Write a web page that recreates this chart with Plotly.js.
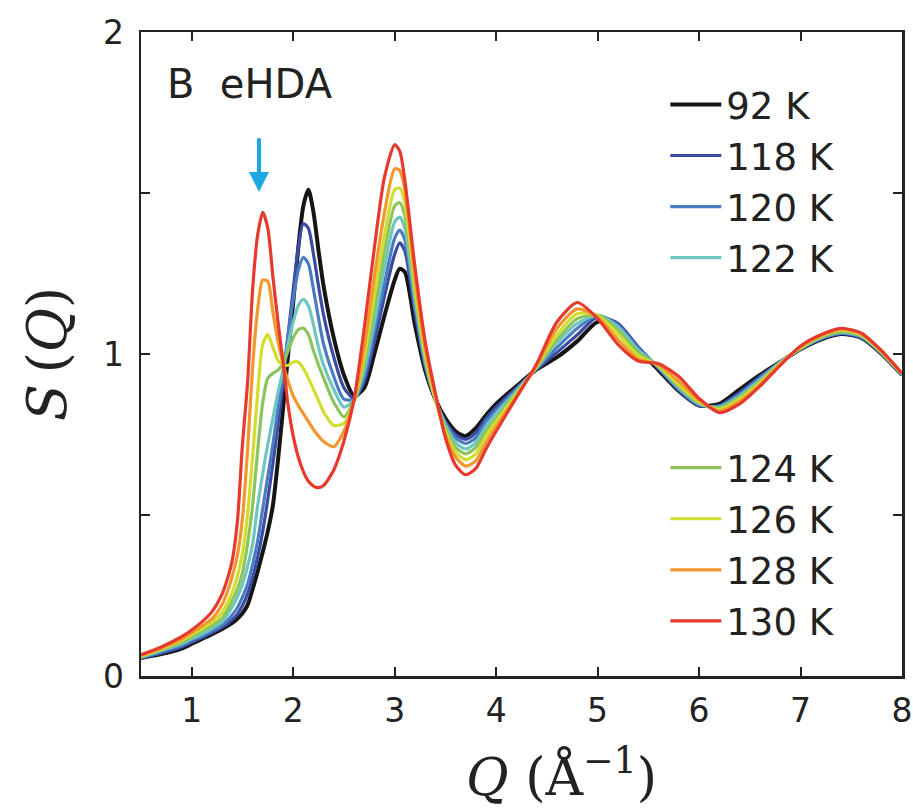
<!DOCTYPE html>
<html>
<head>
<meta charset="utf-8">
<script src="https://cdn.plot.ly/plotly-3.0.1.min.js"></script>
<style>html,body{margin:0;padding:0;background:#fff;}</style>
</head>
<body>
<div id="chart" style="width:913px;height:812px;"></div>
<script>
// Q grid (Å^-1)
const Q = [0.5,0.7,0.9,1.0,1.1,1.2,1.3,1.35,1.4,1.45,1.5,1.55,1.6,1.65,1.7,1.75,1.8,1.85,1.9,1.95,2.0,2.05,2.1,2.15,2.2,2.25,2.3,2.4,2.5,2.6,2.7,2.8,2.9,3.0,3.05,3.1,3.2,3.3,3.4,3.5,3.6,3.7,3.8,3.9,4.0,4.2,4.4,4.6,4.8,5.0,5.2,5.4,5.6,5.8,6.0,6.2,6.4,6.6,6.8,7.0,7.2,7.4,7.6,7.8,8.0];

const labels = ["92 K","118 K","120 K","122 K","124 K","126 K","128 K","130 K"];
const colors = ["#151515","#3b4ba3","#4a7cc2","#6ec6c0","#8bc45c","#d2de2e","#f2962e","#e63a2e"];

const S92  = [0.056,0.068,0.085,0.1,0.115,0.13,0.146,0.155,0.165,0.178,0.195,0.22,0.27,0.325,0.385,0.45,0.53,0.67,0.83,1.0,1.16,1.33,1.46,1.51,1.44,1.32,1.21,1.05,0.935,0.87,0.895,1.0,1.12,1.23,1.265,1.255,1.09,0.95,0.86,0.8,0.76,0.745,0.77,0.81,0.845,0.9,0.952,0.99,1.04,1.1,1.09,1.015,0.95,0.885,0.84,0.845,0.89,0.935,0.975,1.015,1.045,1.062,1.05,1.0,0.935];
const S118 = [0.056,0.071,0.09,0.105,0.119,0.135,0.152,0.162,0.175,0.192,0.218,0.255,0.305,0.37,0.45,0.55,0.66,0.78,0.91,1.06,1.2,1.33,1.405,1.39,1.31,1.21,1.12,0.99,0.895,0.862,0.915,1.04,1.18,1.31,1.345,1.32,1.13,0.96,0.86,0.79,0.75,0.735,0.755,0.8,0.835,0.895,0.953,1.005,1.06,1.115,1.095,1.022,0.955,0.887,0.84,0.84,0.88,0.93,0.975,1.016,1.046,1.063,1.051,1.001,0.935];
const S120 = [0.057,0.075,0.095,0.11,0.124,0.14,0.158,0.172,0.19,0.212,0.245,0.285,0.345,0.42,0.52,0.62,0.72,0.83,0.94,1.06,1.17,1.26,1.30,1.28,1.2,1.11,1.03,0.93,0.86,0.86,0.93,1.07,1.22,1.36,1.385,1.355,1.15,0.97,0.86,0.785,0.74,0.722,0.74,0.79,0.825,0.89,0.955,1.02,1.08,1.12,1.09,1.018,0.958,0.89,0.842,0.838,0.875,0.925,0.975,1.016,1.048,1.065,1.053,1.002,0.936];
const S122 = [0.058,0.079,0.1,0.116,0.13,0.148,0.168,0.19,0.215,0.245,0.285,0.34,0.41,0.53,0.63,0.72,0.8,0.88,0.95,1.03,1.1,1.15,1.17,1.15,1.09,1.02,0.965,0.89,0.835,0.857,0.95,1.1,1.27,1.41,1.425,1.39,1.17,0.98,0.86,0.78,0.725,0.705,0.725,0.775,0.815,0.885,0.958,1.035,1.095,1.12,1.085,1.012,0.96,0.895,0.845,0.835,0.87,0.92,0.974,1.017,1.05,1.067,1.055,1.003,0.937];
const S124 = [0.06,0.082,0.106,0.122,0.14,0.158,0.18,0.205,0.235,0.27,0.32,0.41,0.53,0.7,0.85,0.925,0.94,0.95,0.97,1.01,1.05,1.075,1.08,1.06,1.01,0.965,0.925,0.85,0.805,0.855,0.97,1.14,1.32,1.46,1.47,1.43,1.19,0.99,0.86,0.77,0.71,0.69,0.71,0.76,0.8,0.88,0.96,1.045,1.11,1.12,1.075,1.005,0.962,0.9,0.848,0.832,0.865,0.915,0.972,1.018,1.052,1.07,1.057,1.004,0.938];
const S126 = [0.062,0.084,0.11,0.128,0.147,0.167,0.197,0.225,0.26,0.31,0.38,0.5,0.68,0.88,1.03,1.06,1.02,0.98,0.965,0.965,0.975,0.975,0.955,0.925,0.89,0.855,0.82,0.778,0.785,0.855,0.99,1.18,1.37,1.51,1.515,1.47,1.21,1.0,0.86,0.76,0.695,0.672,0.69,0.745,0.79,0.875,0.962,1.06,1.125,1.12,1.062,0.995,0.964,0.905,0.852,0.828,0.86,0.91,0.97,1.02,1.055,1.074,1.06,1.006,0.939];
const S128 = [0.064,0.087,0.115,0.135,0.155,0.178,0.222,0.26,0.31,0.375,0.49,0.7,0.96,1.14,1.23,1.225,1.13,1.04,0.97,0.915,0.87,0.84,0.815,0.79,0.765,0.745,0.728,0.712,0.76,0.855,1.02,1.24,1.44,1.575,1.57,1.51,1.24,1.02,0.87,0.75,0.68,0.652,0.668,0.725,0.775,0.868,0.965,1.08,1.14,1.115,1.045,0.985,0.966,0.915,0.857,0.823,0.853,0.905,0.968,1.022,1.057,1.077,1.062,1.008,0.94];
const S130 = [0.066,0.09,0.122,0.143,0.168,0.2,0.255,0.3,0.36,0.48,0.72,0.91,1.2,1.37,1.44,1.39,1.24,1.1,0.975,0.84,0.745,0.68,0.635,0.605,0.59,0.585,0.592,0.64,0.73,0.86,1.08,1.33,1.55,1.65,1.63,1.54,1.27,1.04,0.88,0.74,0.655,0.625,0.645,0.705,0.76,0.865,0.97,1.1,1.16,1.11,1.03,0.978,0.97,0.93,0.862,0.818,0.845,0.9,0.965,1.025,1.06,1.08,1.065,1.01,0.94];

const series = [S92,S118,S120,S122,S124,S126,S128,S130];
const xTicks = [1,2,3,4,5,6,7,8];
const yTicks = [0,1,2];

const traces = series.map((s,i)=>({
  x: Q, y: s, type:'scatter', mode:'lines', name: labels[i],
  line:{color:colors[i], width: i===0?4:3.2, shape:'spline', smoothing:0.7},
  legend: i<4 ? 'legend' : 'legend2',
  hoverinfo:'skip'
}));

const tickFont = {family:'DejaVu Sans, Arial, sans-serif', size:33, color:'#222'};
const legFont = {family:'DejaVu Sans, Arial, sans-serif', size:37, color:'#222'};
const serif = 'DejaVu Serif, Liberation Serif, serif';

const layout = {
  width:913, height:812,
  margin:{l:141, r:11, t:32, b:136},
  paper_bgcolor:'#fff', plot_bgcolor:'#fff',
  showlegend:true,
  xaxis:{
    range:[0.5,8], tickvals:xTicks, ticks:'inside', ticklen:9, tickwidth:2, tickcolor:'#222',
    showline:true, linecolor:'#222', linewidth:2.5, mirror:'ticks',
    showgrid:false, zeroline:false, tickfont:tickFont, ticklabelstandoff:4
  },
  yaxis:{
    range:[0,2], tickvals:yTicks, ticks:'inside', ticklen:9, tickwidth:2, tickcolor:'#222',
    minor:{dtick:0.5, ticks:'inside', ticklen:9, tickwidth:2, tickcolor:'#222', showgrid:false},
    showline:true, linecolor:'#222', linewidth:2.5, mirror:'ticks',
    showgrid:false, zeroline:false, tickfont:tickFont, ticklabelstandoff:8,
    title:{text:'<i>S</i>\u2009(<i>Q</i>)', font:{family:serif, size:54, color:'#222'}, standoff:19}
  },
  legend:{x:0.689, y:0.935, xanchor:'left', yanchor:'top', bgcolor:'rgba(0,0,0,0)', borderwidth:0,
    font:legFont, itemwidth:51, tracegroupgap:0},
  legend2:{x:0.689, y:0.371, xanchor:'left', yanchor:'top', bgcolor:'rgba(0,0,0,0)', borderwidth:0,
    font:legFont, itemwidth:51, tracegroupgap:0},
  annotations:[
    {xref:'paper', yref:'paper', x:0.032, y:0.919, xanchor:'left', yanchor:'middle', showarrow:false,
     text:'B\u00a0\u00a0eHDA', font:{family:'DejaVu Sans, Arial, sans-serif', size:40, color:'#222'}},
    {xref:'paper', yref:'paper', x:0.552, y:-0.151, xanchor:'center', yanchor:'middle', showarrow:false,
     text:'<i>Q</i> (Å<sup>−1</sup>)', font:{family:serif, size:52, color:'#222'}},
    {xref:'x', yref:'y', x:1.663, y:1.503, axref:'x', ayref:'y', ax:1.663, ay:1.675,
     showarrow:true, arrowhead:2, arrowsize:1, arrowwidth:4, arrowcolor:'#1ca8e2', text:''}
  ]
};

Plotly.newPlot('chart', traces, layout, {displayModeBar:false, staticPlot:true});
</script>
</body>
</html>
